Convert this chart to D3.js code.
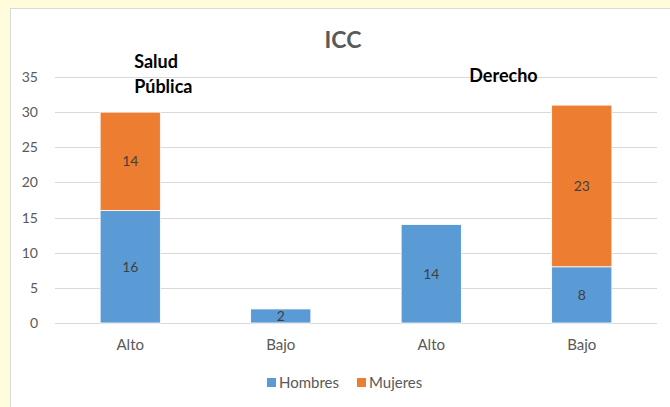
<!DOCTYPE html>
<html>
<head>
<meta charset="utf-8">
<script src="https://cdn.jsdelivr.net/npm/d3@7"></script>
<style>
  html, body { margin: 0; padding: 0; background: #fffcdc; }
  svg { display: block; font-family: Lato, "Open Sans", sans-serif; }
</style>
</head>
<body>
<script>
var width = 670;
var height = 407;

// data
var categories = ["Alto", "Bajo", "Alto", "Bajo"];
var hombres = [16, 2, 14, 8];
var mujeres = [14, 0, 0, 23];
var seriesNames = ["Hombres", "Mujeres"];
var groupNames = ["Salud", "Pública", "Derecho"];
var yTicks = [0, 5, 10, 15, 20, 25, 30, 35];

var colors = ["#5b9bd5", "#ed7d31"];

var margin = { top: 77, right: 13, bottom: 84, left: 55 };

const svg = d3
  .select("body")
  .append("svg")
  .attr("width", width)
  .attr("height", height);

// chart area (white box with thin border)
svg
  .append("rect")
  .attr("x", 10.5)
  .attr("y", 8.5)
  .attr("width", width)
  .attr("height", height)
  .attr("fill", "white")
  .attr("stroke", "#d9d9d9");

let xScale = d3
  .scaleBand()
  .domain(d3.range(categories.length))
  .range([margin.left, width - margin.right])
  .paddingInner(0.6)
  .paddingOuter(0.3);

let yScale = d3
  .scaleLinear()
  .domain([0, 35])
  .range([height - margin.bottom, margin.top]);

// gridlines
svg
  .append("g")
  .attr("class", "grid")
  .selectAll("line")
  .data(yTicks)
  .enter()
  .append("line")
  .attr("x1", margin.left)
  .attr("x2", width - margin.right)
  .attr("y1", (d) => Math.round(yScale(d)) + 0.5)
  .attr("y2", (d) => Math.round(yScale(d)) + 0.5)
  .attr("stroke", "#d9d9d9")
  .attr("stroke-width", 1);

// y axis labels
var yAxis = d3.axisLeft(yScale).tickValues(yTicks).tickSize(0).tickPadding(17);
svg
  .append("g")
  .attr("transform", "translate(" + margin.left + ",0)")
  .call(yAxis)
  .call((g) => g.select(".domain").remove())
  .selectAll("text")
  .attr("fill", "#595959")
  .style("font-size", "14px")
  .style("font-family", "Lato, 'Open Sans', sans-serif");

// x axis labels
var xAxis = d3
  .axisBottom(xScale)
  .tickFormat((i) => categories[i])
  .tickSize(0)
  .tickPadding(16);
svg
  .append("g")
  .attr("transform", "translate(0," + yScale(0) + ")")
  .call(xAxis)
  .call((g) => g.select(".domain").remove())
  .selectAll("text")
  .attr("fill", "#595959")
  .style("font-size", "15px")
  .style("font-family", "Lato, 'Open Sans', sans-serif");

// stacked bars
var rows = categories.map(function (c, i) {
  return { i: i, Hombres: hombres[i], Mujeres: mujeres[i] };
});
var stacked = d3.stack().keys(seriesNames)(rows);

var layer = svg
  .append("g")
  .attr("class", "bars")
  .selectAll("g")
  .data(stacked)
  .enter()
  .append("g")
  .attr("fill", (d, k) => colors[k]);

layer
  .selectAll("rect")
  .data((d) => d.filter((s) => s[1] - s[0] > 0))
  .enter()
  .append("rect")
  .attr("x", (s) => xScale(s.data.i))
  .attr("width", xScale.bandwidth())
  .attr("y", (s) => yScale(s[1]))
  .attr("height", (s) => yScale(s[0]) - yScale(s[1]))
  .attr("stroke", "white")
  .attr("stroke-width", 0.8);

// value labels
layer
  .selectAll("text")
  .data((d) => d.filter((s) => s[1] - s[0] > 0))
  .enter()
  .append("text")
  .attr("x", (s) => xScale(s.data.i) + xScale.bandwidth() / 2)
  .attr("y", (s) => (yScale(s[0]) + yScale(s[1])) / 2)
  .attr("dy", "0.36em")
  .attr("text-anchor", "middle")
  .attr("fill", "#404040")
  .style("font-size", "14px")
  .text((s) => s[1] - s[0]);

// title
svg
  .append("text")
  .attr("x", 343)
  .attr("y", 48)
  .attr("text-anchor", "middle")
  .attr("fill", "#595959")
  .style("font-size", "23px")
  .style("font-weight", "bold")
  .text("ICC");

// group labels
var groupLabel = svg
  .append("g")
  .attr("fill", "black")
  .style("font-size", "18px")
  .style("font-weight", "bold");
groupLabel
  .append("text")
  .attr("x", xScale(0) + 34)
  .attr("y", 68)
  .text(groupNames[0]);
groupLabel
  .append("text")
  .attr("x", xScale(0) + 34)
  .attr("y", 93)
  .text(groupNames[1]);
groupLabel
  .append("text")
  .attr("x", (xScale(2) + xScale(3) + xScale.bandwidth()) / 2 - 3)
  .attr("y", 82)
  .attr("text-anchor", "middle")
  .text(groupNames[2]);

// legend
var legend = svg
  .append("g")
  .attr("class", "legend")
  .selectAll("g")
  .data(seriesNames)
  .enter()
  .append("g")
  .attr("transform", (d, k) => "translate(" + (267 + k * 90) + ",378)");
legend
  .append("rect")
  .attr("width", 9)
  .attr("height", 9)
  .attr("fill", (d, k) => colors[k]);
legend
  .append("text")
  .attr("x", 12)
  .attr("y", 4.5)
  .attr("dy", "0.36em")
  .attr("fill", "#595959")
  .style("font-size", "15px")
  .text((d) => d);
</script>
</body>
</html>
